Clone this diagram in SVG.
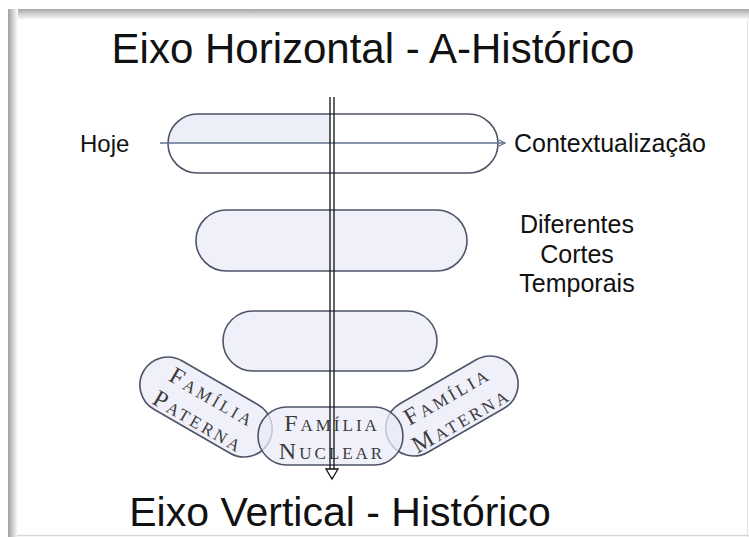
<svg xmlns="http://www.w3.org/2000/svg" width="749" height="537" viewBox="0 0 749 537">
<defs>
<linearGradient id="gTop" x1="0" y1="0" x2="0" y2="1"><stop offset="0" stop-color="#a8a8a8"/><stop offset="1" stop-color="#ffffff"/></linearGradient>
<linearGradient id="gLeft" x1="0" y1="0" x2="1" y2="0"><stop offset="0" stop-color="#a0a0a0"/><stop offset="1" stop-color="#ffffff"/></linearGradient>
<clipPath id="clip1"><rect x="168" y="114" width="330" height="59" rx="29.5"/></clipPath>
<marker id="hArrow" viewBox="0 0 10 10" refX="9" refY="5" markerWidth="8" markerHeight="8" markerUnits="userSpaceOnUse" orient="auto"><path d="M1,1 L9,5 L1,9" fill="none" stroke="#60708f" stroke-width="1.5"/></marker>
</defs>
<style>
.pill{fill:#e9ebf7;fill-opacity:0.75;stroke:#4e5468;stroke-width:1.6}
.lbl{font-family:"Liberation Sans",Arial,sans-serif;fill:#111}
.fam{font-family:"Liberation Serif","Times New Roman",serif;font-variant:small-caps;fill:#3c3c3c;font-size:24px;letter-spacing:3px;text-anchor:middle}
</style>
<rect width="749" height="537" fill="#ffffff"/>
<rect x="8" y="9" width="741" height="11" fill="url(#gTop)"/>
<rect x="8" y="9" width="10" height="528" fill="url(#gLeft)"/>
<line x1="17" y1="535.5" x2="749" y2="535.5" stroke="#d8d8d8" stroke-width="1.5"/>
<line x1="747.5" y1="20" x2="747.5" y2="537" stroke="#e4e4e4" stroke-width="1"/>

<text class="lbl" x="373" y="63" font-size="42" text-anchor="middle">Eixo Horizontal - A-Histórico</text>
<text class="lbl" x="340" y="526" font-size="41" text-anchor="middle">Eixo Vertical - Histórico</text>

<g id="pill1">
<rect x="168" y="114" width="330" height="59" rx="29.5" fill="#ffffff"/>
<rect x="168" y="114" width="163" height="29" fill="#eceef8" clip-path="url(#clip1)"/>
<rect x="168" y="114" width="330" height="59" rx="29.5" fill="none" stroke="#4e5468" stroke-width="1.6"/>
</g>
<g id="pill2"><rect class="pill" x="196" y="210" width="271" height="61" rx="30.5"/></g>
<g id="pill3"><rect class="pill" x="223" y="311" width="214" height="60" rx="30"/></g>

<g id="familia-paterna" transform="translate(206,407) rotate(30)">
<rect class="pill" x="-72" y="-28" width="144" height="56" rx="28"/>
<text class="fam"><tspan x="1" y="-4">Família</tspan><tspan x="1" y="24">Paterna</tspan></text>
</g>
<g id="familia-materna" transform="translate(452,406) rotate(-30)">
<rect class="pill" x="-72" y="-28" width="144" height="56" rx="28"/>
<text class="fam"><tspan x="1" y="-4">Família</tspan><tspan x="1" y="24">Materna</tspan></text>
</g>
<g id="familia-nuclear">
<rect class="pill" x="258" y="407" width="145" height="58" rx="29"/>
<text class="fam"><tspan x="332" y="431">Família</tspan><tspan x="332" y="459">Nuclear</tspan></text>
</g>

<g id="hoje"><text class="lbl" x="80" y="152" font-size="24">Hoje</text></g>
<g id="contextualizacao"><text class="lbl" x="514" y="152" font-size="25">Contextualização</text></g>
<g id="cortes">
<text class="lbl" x="577" y="233" font-size="25" text-anchor="middle">Diferentes</text>
<text class="lbl" x="577" y="263" font-size="25" text-anchor="middle">Cortes</text>
<text class="lbl" x="577" y="292" font-size="25" text-anchor="middle">Temporais</text>
</g>

<g id="connectors">
<line x1="160" y1="143" x2="505" y2="143" stroke="#60708f" stroke-width="1.6" marker-end="url(#hArrow)"/>
<line x1="330" y1="97" x2="330" y2="470" stroke="#111" stroke-width="1.3"/>
<line x1="334" y1="97" x2="334" y2="470" stroke="#111" stroke-width="1.3"/>
<path d="M326,469 L338,469 L332,479 Z" fill="#ffffff" stroke="#111" stroke-width="1.3"/>
</g>
</svg>
